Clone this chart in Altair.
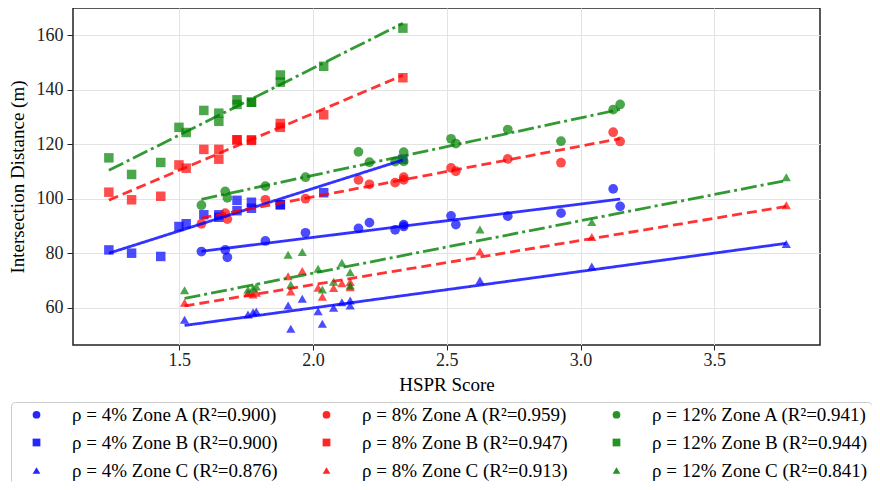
import altair as alt
import pandas as pd

# ---------------- data ----------------
x_zone_a = [1.583, 1.672, 1.680, 1.822, 1.972, 2.170, 2.211, 2.307, 2.339, 2.339,
            2.516, 2.534, 2.728, 2.927, 3.122, 3.148]
y_4_a = [80.6, 81.2, 78.5, 84.5, 87.5, 89.1, 91.2, 88.6, 90.5, 89.8,
         93.7, 90.5, 93.6, 94.7, 103.6, 97.2]
y_8_a = [90.8, 94.7, 92.5, 99.6, 100.0, 106.9, 105.3, 105.9, 107.9, 106.9,
         111.3, 110.1, 114.6, 113.2, 124.4, 121.0]
y_12_a = [97.6, 102.7, 100.3, 104.6, 107.9, 117.2, 113.4, 113.6, 117.1, 113.7,
          122.0, 120.2, 125.4, 121.1, 132.7, 134.6]

x_zone_b = [1.237, 1.322, 1.431, 1.499, 1.526, 1.592, 1.648, 1.648, 1.716, 1.716,
            1.770, 1.770, 1.878, 1.878, 2.040, 2.336]
y_4_b = [81.2, 80.0, 78.8, 89.8, 90.8, 94.1, 93.2, 94.1, 99.4, 95.6,
         98.7, 96.5, 97.8, 97.8, 102.2, 114.5]
y_8_b = [102.4, 99.6, 100.9, 112.4, 111.2, 118.1, 118.1, 114.5, 121.6, 121.6,
         121.6, 121.4, 127.6, 126.2, 130.8, 144.4]
y_12_b = [115.0, 108.9, 113.3, 126.2, 124.3, 132.4, 131.4, 128.4, 136.3, 134.6,
          135.4, 135.4, 145.4, 142.8, 148.6, 162.6]

x_zone_c = [1.520, 1.757, 1.776, 1.788, 1.907, 1.917, 1.960, 2.019, 2.035, 2.077,
            2.108, 2.139, 2.139, 2.624, 3.042, 3.769]
y_4_c = [55.6, 57.5, 58.3, 58.6, 60.8, 52.3, 63.3, 58.7, 54.1, 60.0,
         62.0, 62.6, 60.8, 70.0, 75.1, 83.4]
y_8_c = [61.8, 65.3, 64.8, 65.5, 71.5, 65.9, 73.5, 67.3, 64.0, 67.2,
         69.0, 69.4, 67.5, 80.6, 85.9, 97.6]
y_12_c = [66.4, 66.6, 67.0, 67.8, 79.4, 68.4, 80.4, 74.3, 66.7, 69.5,
          76.5, 73.0, 68.1, 88.7, 91.4, 107.9]

rhos = ["4%", "8%", "12%"]
zones = ["A", "B", "C"]
r2 = {("4%", "A"): "0.900", ("4%", "B"): "0.900", ("4%", "C"): "0.876",
      ("8%", "A"): "0.959", ("8%", "B"): "0.947", ("8%", "C"): "0.913",
      ("12%", "A"): "0.941", ("12%", "B"): "0.944", ("12%", "C"): "0.841"}
zone_x = {"A": x_zone_a, "B": x_zone_b, "C": x_zone_c}
zone_y = {("4%", "A"): y_4_a, ("8%", "A"): y_8_a, ("12%", "A"): y_12_a,
          ("4%", "B"): y_4_b, ("8%", "B"): y_8_b, ("12%", "B"): y_12_b,
          ("4%", "C"): y_4_c, ("8%", "C"): y_8_c, ("12%", "C"): y_12_c}

rho_color = {"4%": "#0000ff", "8%": "#ff0000", "12%": "#008000"}
zone_shape = {"A": "circle", "B": "square", "C": "triangle-up"}
rho_dash = {"4%": [1, 0], "8%": [10, 5], "12%": [16, 4, 3, 4]}

rows = []
legend_order, color_range, shape_range = [], [], []
# legend is filled column by column: column = rho, row = zone
for r in rhos:
    for z in zones:
        label = f"ρ = {r} Zone {z} (R²={r2[(r, z)]})"
        legend_order.append(label)
        color_range.append(rho_color[r])
        shape_range.append(zone_shape[z])
        for xv, yv in zip(zone_x[z], zone_y[(r, z)]):
            rows.append({"x": xv, "y": yv, "series": label, "rho": r, "zone": z})
df = pd.DataFrame(rows)

FONT = "Liberation Serif"
xscale = alt.Scale(domain=[1.103, 3.895], nice=False, zero=False)
yscale = alt.Scale(domain=[46.3, 170.0], nice=False, zero=False)

xenc = alt.X("x:Q", scale=xscale, title="HSPR Score",
             axis=alt.Axis(values=[1.5, 2.0, 2.5, 3.0, 3.5], format=".1f",
                           labelPadding=1, tickSize=5, titlePadding=6))
yenc = alt.Y("y:Q", scale=yscale, title="Intersection Distance (m)",
             axis=alt.Axis(values=[60, 80, 100, 120, 140, 160],
                           labelPadding=4, tickSize=6, titlePadding=9))

leg = alt.Legend(title=None, orient="none", legendX=-62, legendY=394,
                 columns=3, columnPadding=25, rowPadding=8, padding=3,
                 symbolOffset=13, labelOffset=26, labelLimit=400,
                 labelFont=FONT, labelFontSize=19, labelColor="black",
                 symbolSize=60, symbolOpacity=0.85, symbolStrokeWidth=0,
                 strokeColor="#cccccc", fillColor="white", cornerRadius=4)

base = alt.Chart(df)

layers = []
for r in rhos:
    layers.append(
        base.transform_filter(alt.datum.rho == r)
        .transform_regression("x", "y", groupby=["series"])
        .mark_line(color=rho_color[r], strokeDash=rho_dash[r],
                   strokeWidth=2.8, opacity=0.8)
        .encode(x=xenc, y=yenc, detail="series:N")
    )

points = base.mark_point(filled=True, opacity=0.7, strokeWidth=0).encode(
    x=xenc, y=yenc,
    color=alt.Color("series:N", scale=alt.Scale(domain=legend_order, range=color_range),
                    legend=leg),
    shape=alt.Shape("series:N", scale=alt.Scale(domain=legend_order, range=shape_range),
                    legend=leg),
    size=alt.Size("zone:N", scale=alt.Scale(domain=zones, range=[95, 85, 115]),
                  legend=None),
)

chart = alt.layer(points, *layers).properties(
    width=747, height=337,
    autosize=alt.AutoSizeParams(type="none"),
    padding={"left": 65, "top": 0, "right": 52, "bottom": 137},
).configure_view(
    stroke="#222222", strokeWidth=1.5
).configure_axis(
    domain=False, grid=True, gridColor="#e3e3e3", gridWidth=1,
    tickColor="#222222", tickWidth=1,
    labelFont=FONT, labelFontSize=18, labelColor="#222222",
    titleFont=FONT, titleFontSize=19, titleFontWeight="normal", titleColor="black",
)

chart.save("out.html", embed_options={"renderer": "svg", "actions": False})
